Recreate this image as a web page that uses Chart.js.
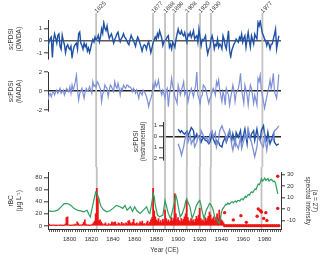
<!DOCTYPE html>
<html><head><meta charset="utf-8">
<script src="https://cdn.jsdelivr.net/npm/chart.js@4/dist/chart.umd.min.js"></script>
<style>
html,body{margin:0;padding:0;background:#fff;}
#wrap{position:relative;width:320px;height:255px;overflow:hidden;background:#fff;}
#wrap canvas{position:absolute;left:0;}
</style></head><body>
<div id="wrap">
<canvas id="c1" width="320" height="64" style="top:0px"></canvas>
<canvas id="c2" width="320" height="53" style="top:64px"></canvas>
<canvas id="c3" width="320" height="50" style="top:117px"></canvas>
<canvas id="c4" width="320" height="88" style="top:167px"></canvas>
</div>
<script>
// ---------------- DATA ----------------
const eventYears = [1825, 1877, 1888, 1896, 1908, 1920, 1930, 1977];
const xTickLabels = [1800, 1820, 1840, 1860, 1880, 1900, 1920, 1940, 1960, 1980];

const owdaStart = 1781;
const owda = [
 -0.46,-0.1,0.18,0.3,-1.36,0.05,0.56,0.2,-0.2,0.44,
 0.56,-0.46,-0.7,0.44,0.0,-0.33,-0.97,-0.5,-0.33,-0.6,
 -0.7,-0.46,-1.36,-0.8,-0.46,-0.3,-0.2,-0.7,0.56,0.7,
 -0.2,-0.4,-0.7,-0.2,-0.5,-0.3,-0.85,-0.6,-0.97,-0.6,
 -0.2,0.1,-0.1,0.3,0.05,0.2,0.44,-0.08,0.3,0.95,
 0.6,1.46,1.0,0.82,1.2,0.6,0.18,0.4,0.56,0.2,
 -0.2,0.1,0.3,0.56,0.7,0.2,-0.08,0.18,0.3,0.56,
 0.3,0.18,0.0,-0.2,-0.33,0.1,0.44,0.2,0.05,-0.2,
 -0.46,0.0,0.3,0.1,-0.2,-0.5,-0.85,-0.5,-0.33,-0.4,
 -0.7,-0.3,-0.08,-0.5,-0.97,-0.6,-0.2,0.05,0.3,0.1,
 0.56,0.3,0.8,0.5,0.2,-0.4,-0.1,0.0,0.13,0.3,
 0.4,-0.53,-0.3,-0.67,-0.13,-0.3,-0.53,0.1,0.53,0.93,
 0.6,0.53,0.8,0.5,0.4,0.67,0.2,-0.13,0.53,0.4,
 0.67,0.27,0.5,0.8,0.13,0.3,0.4,-0.13,0.93,0.27,
 -0.4,0.1,0.0,0.2,0.4,-0.53,-1.07,-0.7,-0.53,0.1,
 0.4,0.0,-0.67,-0.3,-0.4,0.13,-0.53,-0.27,-0.4,-0.67,
 0.4,0.1,-0.4,-0.67,0.1,0.8,-0.8,-1.33,-0.8,-0.53,
 -0.27,-0.13,0.13,0.0,-0.13,0.27,0.1,0.53,-0.13,0.2,
 0.4,-0.53,0.13,0.67,0.0,-0.53,0.4,0.1,-0.27,0.53,
 0.3,0.13,1.47,1.2,1.6,1.07,0.6,0.4,0.13,0.0,
 -0.4,-0.1,-0.27,-0.67,-0.3,-0.27,0.13,0.5,0.93,-0.67,
 -0.13,0.4
];

const madaStart = 1781;
const mada = [
 -0.95,-0.4,-0.25,-0.6,-0.2,-0.07,-0.42,-0.1,0.1,-0.25,
 0.0,0.28,-0.25,-0.1,0.1,-0.42,-0.1,0.28,0.1,-0.07,
 0.46,-0.25,0.63,0.1,0.5,0.98,1.68,0.1,-0.95,-0.25,
 0.0,0.28,-0.25,-0.77,-0.07,0.28,0.0,0.1,0.46,0.1,
 -0.25,0.98,0.5,0.63,0.4,0.98,0.81,0.46,0.2,-1.12,
 -0.3,-0.07,0.63,0.4,0.28,-0.6,0.1,0.63,0.46,0.2,
 -0.07,0.98,0.5,0.28,0.81,0.3,-0.42,0.28,0.1,0.63,
 0.4,0.28,0.63,0.63,0.4,0.46,0.3,-0.07,0.28,0.1,
 -0.25,0.1,-0.3,-0.77,-0.07,-0.2,-0.42,0.1,-0.1,-0.25,
 -0.6,-1.0,-1.65,-1.12,-0.8,-0.42,0.63,0.3,0.98,0.46,
 0.7,1.16,0.3,-0.07,-0.42,0.1,-0.3,-0.77,0.0,0.28,
 -1.65,-0.42,0.3,1.33,0.5,0.1,-0.6,-0.9,-1.3,0.63,
 0.1,-0.42,0.1,0.5,0.98,-0.42,-0.1,0.1,-1.12,-0.5,
 -0.07,0.28,-0.2,-0.6,0.1,0.6,2.0,-0.42,-0.8,-1.3,
 -0.6,-0.42,0.63,0.5,0.28,-0.25,-0.8,-1.3,-0.77,-0.6,
 -0.1,0.28,0.0,-0.42,0.98,0.6,1.16,0.1,-0.5,-1.12,
 -0.07,-0.5,-1.47,0.28,-0.1,-0.42,-1.47,-0.7,-0.07,0.63,
 0.0,-1.12,-0.25,0.0,0.28,0.9,1.86,0.1,-0.6,-1.3,
 0.63,0.1,-0.42,-1.47,-0.3,0.63,0.28,-0.5,-1.3,-0.42,
 -0.9,-1.47,1.33,1.0,1.68,0.1,-0.5,-1.12,-1.82,-1.2,
 -0.6,-0.07,0.5,1.16,0.28,0.9,1.86,-0.07,-0.4,-0.77,
 0.3,1.75
];

const instYears = [1900,1902,1903,1905,1906,1908,1909,1911,1912,1914,1915,1917,1918,1920,1921,1923,1925,1926,1928,1929,1931,1932,1934,1935,1937,1938,1940,1941,1943,1944,1946,1947,1949,1950,1952,1953,1955,1957,1958,1960,1961,1963,1964,1966,1967,1969,1970,1972,1973,1975,1976,1978,1979,1981,1982,1984,1986,1987,1988,1990,1992];
const instDark = [0.7,0.39,0.55,0.3,0.24, 0.48,0.09,0.55,0.85,0.55, -0.21,0.24,-0.06,0.09,-0.52, -0.06,-0.36,-0.36,-0.67,-0.52, 0.24,-0.21,-0.67,-0.36,-0.52, -0.82,-0.97,-0.52,-0.06,-0.52, 0.09,0.55,-0.36,0.24,-0.67, 0.39,-0.06,0.55,-0.52,0.24, 0.7,-0.67,0.55,-0.21,0.24, 0.55,-0.36,0.7,0.09,-0.36, 0.55,1.0,0.24,-0.36,0.39, -0.67,-0.06,0.24,-0.52,-0.82, -0.67];
const instLight = [-0.67,-1.27,-1.73,-0.97,-0.36, 0.39,-0.52,0.09,-0.67,-0.21, -0.97,-0.52,0.09,-0.36,0.55, 0.09,-0.21,-0.06,-0.52,0.24, 0.55,-0.06,0.39,-0.97,-0.21, 0.55,1.0,0.7,0.24,-0.36, 0.39,0.55,-0.82,-1.27,-0.21, -0.67,-1.12,-0.06,-1.12,-0.36, 0.24,-0.21,0.7,-0.21,-0.52, -1.42,-1.88,-0.97,0.09,-0.36, -0.67,-0.97,0.09,-1.27,-0.52, -0.06,-0.21,-0.36,0.55,0.7, 1.0];

const rbcStart = 1781;
const rbc = [
 3,1,0.5,1,2,0.5,1,0.5,1,1.5,
 0.5,2,1,0.5,1,3,14,15,2,1,
 0.5,1,2,1,3,2,7,4,1,2,
 1,3,6,10,3,1,2,0.5,1,2,
 3,5,8,20,62,45,9,10,7,4,
 2,3,5,2,1,4,2,3,7,4,
 6,7,3,2,5,4,2,6,3,4,
 2,5,3,8,9,5,3,6,11,4,
 3,5,2,4,7,5,8,3,4,2,
 5,8,3,6,10,14,62,25,15,10,
 8,12,6,9,5,11,8,26,12,7,
 10,6,9,14,8,12,53,20,10,14,
 9,7,12,8,11,15,20,42,14,9,
 7,12,8,10,6,11,16,12,18,29,
 12,8,10,7,14,9,12,16,23,18,
 10,12,15,9,14,20,12,26,15,10,
 8,5
];

const greenYears = [1781,1783,1786,1789,1792,1795,1798,1801,1804,1807,1810,1813,1816,1818,1819,1821,1822,1823,1824,1825,1826,1827,1828,1829,1831,1834,1837,1840,1843,1846,1849,1851,1853,1856,1858,1860,1862,1865,1868,1871,1873,1874,1875,1876,1877,1878,1879,1880,1881,1883,1886,1887,1888,1889,1891,1893,1895,1897,1898,1899,1900,1902,1904,1906,1907,1908,1909,1911,1913,1915,1917,1919,1920,1921,1922,1924,1926,1928,1929,1930,1932,1934,1936,1937,1938,1939,1940,1941,1942];
const greenVals = [25,24,24.5,26,31.6,37,37,34,29,26,25,23.4,26,18,15,31.6,40,48,56,55,50,45,37,32,27,23.4,25,29,34,32,29,34,26,31.6,24,31.6,25,20.7,26,31.6,22,20.7,30,40,54,48,35,26,18,15,18,30,42,35,20.7,12.5,26,42,50.6,44,34,15,20.7,32,40,45,40,31.6,12.5,22,34,40,42,36,26,12.5,26,33,37,36,29,14,10,6,4,12,22,28,30];
const greenLateStart = 1943;
const greenLate = [33,36,35,38,36,37,39,40,38,40, 41,39,42,42,41,44,45,43,46,49, 47,50,52,51,55,56,55,58,61,60, 65,69,68,72,78,74,76,79,75,77, 78,74,76,77,75,73,74,70,62,53];

const dotYears = [1943,1943,1945,1947,1949,1951,1951,1953,1955,1957,1958,1959,1961,1963,1963,1965,1967,1969,1971,1973,1973,1974,1975,1976,1977,1977,1979,1979,1981,1981,1982,1983,1985,1987,1989,1991,1992,1992,1993];
const dotVals = [22,0.5,0.5,0.5,0.5,10,0.5,0.5,0.5,0.5,17,0.5,0.5,6,0.5,0.5,0.5,0.5,0.5,16,0.5,28,0.5,25,23,0.5,12.5,0.5,22,0.5,9,0.5,0.5,0.5,0.5,0.5,82,29,0.5];

// ---------------- LAYOUT / STYLE ----------------
const X_MIN = 1781, X_MAX = 1994;
const AREA_L = 48, AREA_R = 281;
const C_DARK = '#1f52a6', C_LIGHT = '#7d90d6', C_RED = '#ee1515', C_GREEN = '#2f9e5c';
const FONT = "'Liberation Sans', Arial, sans-serif";
Chart.defaults.font.family = FONT;
Chart.defaults.font.size = 6;
Chart.defaults.color = '#333';

const annual = (start, vals) => vals.map((v, i) => ({x: start + i, y: v}));
const pairs = (xs, ys) => xs.map((x, i) => ({x: x, y: ys[i]}));

const eventLines = {
  id: 'eventLines',
  beforeDatasetsDraw(chart, args, o) {
    const ctx = chart.ctx, xs = chart.scales.x;
    const bottom = o.bottom === 'area' ? chart.chartArea.bottom : chart.height;
    ctx.save();
    ctx.strokeStyle = '#c2c2c2';
    ctx.lineWidth = 1.8;
    eventYears.forEach(yr => {
      const px = xs.getPixelForValue(yr);
      ctx.beginPath(); ctx.moveTo(px, o.top); ctx.lineTo(px, bottom); ctx.stroke();
    });
    ctx.restore();
  },
  afterDraw(chart, args, o) {
    if (!o.labels) return;
    const ctx = chart.ctx, xs = chart.scales.x;
    ctx.save();
    ctx.font = '6px ' + FONT;
    ctx.fillStyle = '#333';
    ctx.textAlign = 'left';
    ctx.textBaseline = 'middle';
    eventYears.forEach(yr => {
      const px = xs.getPixelForValue(yr);
      ctx.save();
      ctx.translate(px - 0.5, o.top - 1);
      ctx.rotate(-Math.PI / 4);
      ctx.fillText(String(yr), 0, 0);
      ctx.restore();
    });
    ctx.restore();
  }
};
Chart.register(eventLines);

function yAxis(c) {
  return {
    type: 'linear', position: c.position || 'left', min: c.min, max: c.max,
    afterFit: s => { s.width = c.width; },
    border: {color: '#333', width: 1},
    grid: {
      drawOnChartArea: !!c.zero,
      color: ctx => (c.zero && ctx.tick && ctx.tick.value === 0) ? c.zero : 'rgba(0,0,0,0)',
      lineWidth: 1.6,
      tickColor: '#333', tickWidth: 1, tickLength: 4
    },
    ticks: {stepSize: c.step || 1, includeBounds: false, padding: 2, color: '#333',
            font: {size: 6}, callback: v => String(v)},
    title: {display: true, text: c.title, color: '#333',
            font: {size: 6.5, lineHeight: 1.1}, padding: {top: c.tpad, bottom: 0}}
  };
}

function hiddenX(min) {
  return {type: 'linear', min: min, max: X_MAX, display: false};
}

function baseOptions(padding, scales, ev) {
  return {
    responsive: false, animation: false, devicePixelRatio: 1, events: [],
    layout: {padding: padding},
    plugins: {legend: {display: false}, tooltip: {enabled: false}, eventLines: ev},
    scales: scales
  };
}

// Panel 1: OWDA
new Chart(document.getElementById('c1'), {
  type: 'line',
  data: {datasets: [{data: annual(owdaStart, owda), borderColor: C_DARK, borderWidth: 1.4,
                     pointRadius: 0, tension: 0}]},
  options: baseOptions({left: 0, right: 320 - AREA_R, top: 20, bottom: 5},
    {x: hiddenX(X_MIN), y: yAxis({min: -1.44, max: 1.68, width: AREA_L, zero: '#5a5a5a',
                                  title: ['scPDSI', '(OWDA)'], tpad: 8})},
    {top: 13, bottom: 'canvas', labels: true})
});

// Panel 2: MADA
new Chart(document.getElementById('c2'), {
  type: 'line',
  data: {datasets: [{data: annual(madaStart, mada), borderColor: C_LIGHT, borderWidth: 1.2,
                     pointRadius: 0, tension: 0}]},
  options: baseOptions({left: 0, right: 320 - AREA_R, top: 8, bottom: 6},
    {x: hiddenX(X_MIN), y: yAxis({min: -2.1, max: 2.0, width: AREA_L, zero: '#222',
                                  title: ['scPDSI', '(MADA)'], tpad: 8})},
    {top: 0, bottom: 'canvas', labels: false})
});

// Panel 3: instrumental (axis starts at x = 163 px)
const INST_LEFT = 163;
const instXMin = X_MIN + (INST_LEFT - AREA_L) * (X_MAX - X_MIN) / (AREA_R - AREA_L);
new Chart(document.getElementById('c3'), {
  type: 'line',
  data: {datasets: [
    {data: pairs(instYears, instLight), borderColor: C_LIGHT, borderWidth: 1.3, pointRadius: 0, tension: 0},
    {data: pairs(instYears, instDark), borderColor: C_DARK, borderWidth: 1.4, pointRadius: 0, tension: 0}
  ]},
  options: baseOptions({left: 128, right: 320 - AREA_R, top: 4.7, bottom: 6.8},
    {x: hiddenX(instXMin), y: yAxis({min: -2.2, max: 1.3, width: INST_LEFT - 128, zero: '#222',
                                     title: ['scPDSI', '(instrumental)'], tpad: 4.5})},
    {top: 0, bottom: 'canvas', labels: false})
});

// Panel 4: rBC and spectral intensity
const green = pairs(greenYears, greenVals).concat(annual(greenLateStart, greenLate));
new Chart(document.getElementById('c4'), {
  type: 'line',
  data: {datasets: [
    {type: 'scatter', data: pairs(dotYears, dotVals), yAxisID: 'yL', showLine: false,
     pointRadius: 1.7, pointBackgroundColor: C_RED, pointBorderWidth: 0, order: 0},
    {type: 'line', data: green, yAxisID: 'yL', borderColor: C_GREEN, borderWidth: 1.2,
     pointRadius: 0, tension: 0, order: 1},
    {type: 'bar', data: annual(rbcStart, rbc), yAxisID: 'yL', backgroundColor: C_RED,
     barThickness: 1.1, order: 2}
  ]},
  options: baseOptions({left: 0, right: 0, top: 5, bottom: 0}, {
    x: {
      type: 'linear', min: X_MIN, max: X_MAX, position: 'bottom',
      afterFit: s => { s.height = 26; },
      border: {color: '#333', width: 1},
      grid: {drawOnChartArea: false, tickLength: 3, tickColor: '#333', tickWidth: 0.8},
      ticks: {stepSize: 2, autoSkip: false, maxRotation: 0, minRotation: 0, includeBounds: false,
              maxTicksLimit: 1000, padding: 4, color: '#333', font: {size: 6},
              callback: v => xTickLabels.includes(v) ? String(v) : ''},
      title: {display: true, text: 'Year (CE)', color: '#333', font: {size: 6.5},
              padding: {top: 0, bottom: 1}}
    },
    yL: yAxis({min: -5, max: 88, width: AREA_L, step: 20, zero: null,
               title: ['rBC', '(µg L⁻¹)'], tpad: 8}),
    yR: yAxis({position: 'right', min: -17.1, max: 31.7, width: 320 - AREA_R, step: 10, zero: null,
               title: ['(a = 27)', 'spectral intensity'], tpad: 1.5})
  }, {top: 0, bottom: 'area', labels: false})
});
</script>
</body></html>
